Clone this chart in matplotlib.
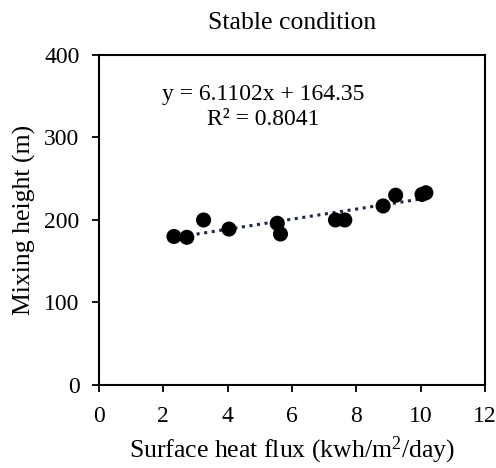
import matplotlib
matplotlib.use("Agg")
import matplotlib.pyplot as plt
import numpy as np

plt.rcParams['font.family'] = ['Liberation Serif', 'DejaVu Serif']
plt.rcParams['mathtext.fontset'] = 'custom'
plt.rcParams['mathtext.rm'] = 'Liberation Serif'
plt.rcParams['mathtext.default'] = 'regular'

# Observations: surface heat flux vs mixing height
heat_flux = [2.33, 2.73, 3.25, 4.04, 5.54, 5.64, 7.35, 7.64, 8.83, 9.22, 10.04, 10.16]
mixing_height = [180, 179, 200, 189, 196, 183, 200, 200, 217, 230, 231, 233]

# Linear fit coefficients
slope = 6.1102
intercept = 164.35
r_squared = 0.8041

x_ticks = [0, 2, 4, 6, 8, 10, 12]
y_ticks = [0, 100, 200, 300, 400]

fig = plt.figure(figsize=(4.96, 4.68), dpi=100)
ax = fig.add_axes([0.1996, 0.1774, 0.7784, 0.7051])

xs = np.array([min(heat_flux), max(heat_flux)])
ax.plot(xs, slope * xs + intercept, linestyle=(0, (1, 1.5)), color='#1f2a44',
        linewidth=2.2, zorder=2)
ax.scatter(heat_flux, mixing_height, s=118, color='black', zorder=3,
           edgecolors='none')

ax.set_xlim(0, 12)
ax.set_ylim(0, 400)
ax.set_xticks(x_ticks)
ax.set_yticks(y_ticks)
ax.tick_params(direction='out', length=5, width=1.3, labelsize=17,
               colors='black')
ax.tick_params(axis='y', pad=9)
ax.tick_params(axis='x', pad=10)
for s in ax.spines.values():
    s.set_linewidth(1.5)
    s.set_color('black')

ax.set_xlabel('Surface heat flux (kwh/m$^{2}$/day)', fontsize=18.5, labelpad=6)
ax.set_ylabel('Mixing height (m)', fontsize=18.5, labelpad=6)
ax.set_title('Stable condition', fontsize=18.5, pad=19)

ax.text(0.426, 0.879, f'y = {slope}x + {intercept}', transform=ax.transAxes,
        ha='center', va='center', fontsize=17)
ax.text(0.426, 0.806, f'R² = {r_squared}', transform=ax.transAxes,
        ha='center', va='center', fontsize=17)

fig.savefig('out.png', dpi=100)
